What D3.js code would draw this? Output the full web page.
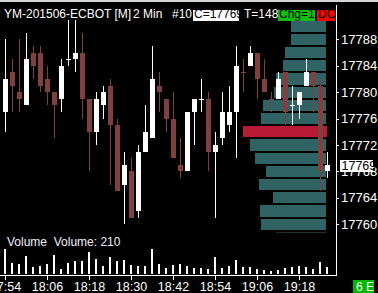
<!DOCTYPE html>
<html>
<head>
<meta charset="utf-8">
<script src="https://cdn.jsdelivr.net/npm/d3@7"></script>
<style>
  html, body { margin: 0; padding: 0; background: #000; overflow: hidden; }
  svg { display: block; }
  text { font-family: "Liberation Sans", Arial, sans-serif; }
  .narrow text, text.narrow { font-family: "Liberation Sans Narrow", "Liberation Sans", Arial, sans-serif; }
</style>
</head>
<body>
<svg id="chart" width="378" height="293"></svg>
<script>
// 2 minute bars, YM-201506 from 17:54 to 19:26
const opens  = [17777,17783,17780,17778,17786,17786,17782,17780,17779,17785,17785,17786,17779,17774,17778,17781,17775,17766,17768,17762,17771,17773,17781,17779,
                17776,17769,17768,17777,17779,17779,17771,17773,17775,17777,17783,17784,17786,17782,17779,17779,17783,17778,17778,17781,17783,17781,17768];
const highs  = [17788,17785,17788,17789,17787,17787,17784,17780,17785,17791,17791,17789,17779,17780,17781,17782,17776,17771,17770,17772,17778,17787,17783,17779,
                17780,17773,17777,17779,17782,17780,17774,17780,17781,17787,17785,17787,17786,17785,17780,17783,17783,17781,17780,17785,17783,17782,17771];
const lows   = [17774,17777,17777,17778,17782,17780,17778,17773,17777,17784,17783,17776,17768,17772,17776,17766,17765,17760,17761,17761,17771,17773,17777,17774,
                17770,17767,17768,17772,17777,17768,17761,17772,17774,17770,17780,17784,17779,17780,17777,17779,17775,17775,17776,17781,17777,17765,17767];
const closes = [17782,17781,17779,17785,17784,17781,17780,17778,17784,17785,17786,17779,17774,17779,17780,17775,17765,17769,17761,17771,17774,17782,17780,17776,
                17770,17768,17777,17779,17779,17771,17772,17777,17777,17784,17783,17786,17782,17780,17779,17782,17777,17778,17780,17783,17781,17768,17769];
const volumes = [210,94,86,152,61,69,86,161,44,94,111,111,186,128,69,144,111,119,78,69,69,210,86,53,
                 78,86,69,53,53,44,144,53,69,119,61,61,44,36,28,36,55,61,69,61,44,103,61];

// volume profile, one row per 2 points
const profilePrices = [17790,17788,17786,17784,17782,17780,17778,17776,17774,17772,17770,17768,17766,17764,17762,17760,17758];
const profileVolume = [35,35,41,43,50,52,63,65,83,76,71,60,67,53,66,65,50];

const priceTicks = [17760,17764,17768,17772,17776,17780,17784,17788];
const lastPrice = 17769;

const W = 378, H = 293;
const startTime = new Date(2015, 4, 20, 17, 54);
const times = opens.map((d, i) => d3.timeMinute.offset(startTime, 2 * i));
const bars = times.map((t, i) => ({t, o: opens[i], h: highs[i], l: lows[i], c: closes[i], v: volumes[i],
  up: closes[i] > opens[i] || (closes[i] === opens[i] && (i === 0 || closes[i] >= closes[i - 1]))}));

const x = d3.scaleTime().domain([times[0], times[times.length - 1]]).range([5, 327]);
const y = d3.scaleLinear().domain([17760, 17788]).range([224.1, 39.3]);
const yVol = d3.scaleLinear().domain([0, 210]).range([274.3, 249.1]);
const wProf = d3.scaleLinear().domain([0, d3.max(profileVolume)]).range([0, 83]);
const pocPrice = profilePrices[profileVolume.indexOf(d3.max(profileVolume))];

const upColor = "#ffffff", downColor = "#804040";
const profColor = "#306464", pocColor = "#b81c34";

const svg = d3.select("#chart").attr("shape-rendering", "crispEdges");
svg.append("rect").attr("width", W).attr("height", H).attr("fill", "#000");
svg.append("rect").attr("width", W).attr("height", 2).attr("fill", "#d4d4d4");

svg.append("clipPath").attr("id", "main").append("rect")
    .attr("x", 0).attr("y", 20).attr("width", 336).attr("height", 212.5);

const main = svg.append("g").attr("clip-path", "url(#main)");

// volume profile
const profRight = 326;
main.selectAll(".prof").data(profilePrices).join("rect")
    .attr("x", (p, i) => profRight - wProf(profileVolume[i]))
    .attr("y", p => y(p + 1) + 1)
    .attr("width", (p, i) => wProf(profileVolume[i]) + (p === pocPrice ? 1 : 0))
    .attr("height", p => y(p - 1) - y(p + 1) - 2)
    .attr("fill", p => p === pocPrice ? pocColor : profColor);

// candles
const candle = main.selectAll(".candle").data(bars).join("g")
    .attr("fill", d => d.up ? upColor : downColor);
candle.append("rect")
    .attr("x", d => Math.round(x(d.t)))
    .attr("y", d => y(d.h))
    .attr("width", 1)
    .attr("height", d => Math.max(1, y(d.l) - y(d.h)));
candle.append("rect")
    .attr("x", d => Math.round(x(d.t)) - 2)
    .attr("y", d => y(Math.max(d.o, d.c)))
    .attr("width", 5)
    .attr("height", d => Math.max(1, y(Math.min(d.o, d.c)) - y(Math.max(d.o, d.c))));

// price axis
svg.append("line").attr("x1", 336.5).attr("x2", 336.5).attr("y1", 5).attr("y2", 276)
    .attr("stroke", "#fff");
const yAxis = svg.append("g").attr("class", "narrow").attr("transform", "translate(336,0)")
    .call(d3.axisRight(y).tickValues(priceTicks).tickFormat(d3.format("d")).tickSize(3).tickPadding(2));
yAxis.select(".domain").remove();
yAxis.selectAll("line").attr("stroke", "#fff");
yAxis.selectAll("text").attr("fill", "#fff").attr("font-size", 13);

// last price box
svg.append("rect").attr("x", 340).attr("y", y(lastPrice) - 4.5).attr("width", 33).attr("height", 12).attr("fill", "#fff");
svg.append("text").attr("class", "narrow").attr("x", 341.5).attr("y", y(lastPrice) + 5.5)
    .attr("font-size", 12.5).attr("fill", "#000").text(lastPrice);

// volume panel
svg.selectAll(".vol").data(bars).join("rect")
    .attr("x", d => Math.round(x(d.t)) - 1)
    .attr("y", d => yVol(d.v))
    .attr("width", 2)
    .attr("height", d => yVol(0) - yVol(d.v))
    .attr("fill", "#fff");
svg.append("text").attr("x", 7).attr("y", 246).attr("font-size", 12).attr("fill", "#f0f0ff")
    .text("Volume\u00a0 Volume: 210");
svg.append("line").attr("x1", 0).attr("x2", 337).attr("y1", 275.5).attr("y2", 275.5).attr("stroke", "#fff");

const timeTicks = d3.range(0, 8).map(k => d3.timeMinute.offset(startTime, 12 * k));
const xAxis = svg.append("g").attr("class", "narrow").attr("transform", "translate(0,276)")
    .call(d3.axisBottom(x).tickValues(timeTicks).tickFormat(d3.timeFormat("%H:%M")).tickSize(4).tickPadding(2));
xAxis.select(".domain").remove();
xAxis.selectAll("line").attr("stroke", "#fff");
xAxis.selectAll("text").attr("fill", "#fff").attr("font-size", 12.5);

svg.append("rect").attr("x", 353).attr("y", 280).attr("width", 21).attr("height", 13).attr("fill", "#00b800");
svg.append("text").attr("x", 356).attr("y", 291).attr("font-size", 12).attr("fill", "#fff").text("6 E");

// header
const header = svg.append("g").attr("font-size", 12);
header.append("text").attr("x", 4).attr("y", 18).attr("fill", "#fff").text("YM-201506-ECBOT [M]");
header.append("text").attr("x", 133).attr("y", 18).attr("fill", "#fff").text("2 Min");
header.append("text").attr("x", 172).attr("y", 18).attr("fill", "#fff").text("#10");
header.append("clipPath").attr("id", "cbox").append("rect").attr("x", 193).attr("y", 10).attr("width", 46).attr("height", 11);
header.append("rect").attr("x", 193).attr("y", 10).attr("width", 46).attr("height", 11).attr("fill", "#fff");
header.append("text").attr("x", 194).attr("y", 18).attr("fill", "#000").attr("clip-path", "url(#cbox)").text("C=" + lastPrice);
header.append("text").attr("x", 244).attr("y", 18).attr("fill", "#fff").text("T=148");
header.append("rect").attr("x", 278).attr("y", 10).attr("width", 37).attr("height", 11).attr("fill", "#10c010");
header.append("text").attr("x", 279).attr("y", 18).attr("fill", "#000").text("Chg=1");
header.append("clipPath").attr("id", "dcbox").append("rect").attr("x", 317).attr("y", 10).attr("width", 18).attr("height", 11);
header.append("rect").attr("x", 317).attr("y", 10).attr("width", 18).attr("height", 11).attr("fill", "#ff0000");
header.append("text").attr("x", 318).attr("y", 18).attr("fill", "#000").attr("clip-path", "url(#dcbox)").text("DC");
</script>
</body>
</html>
